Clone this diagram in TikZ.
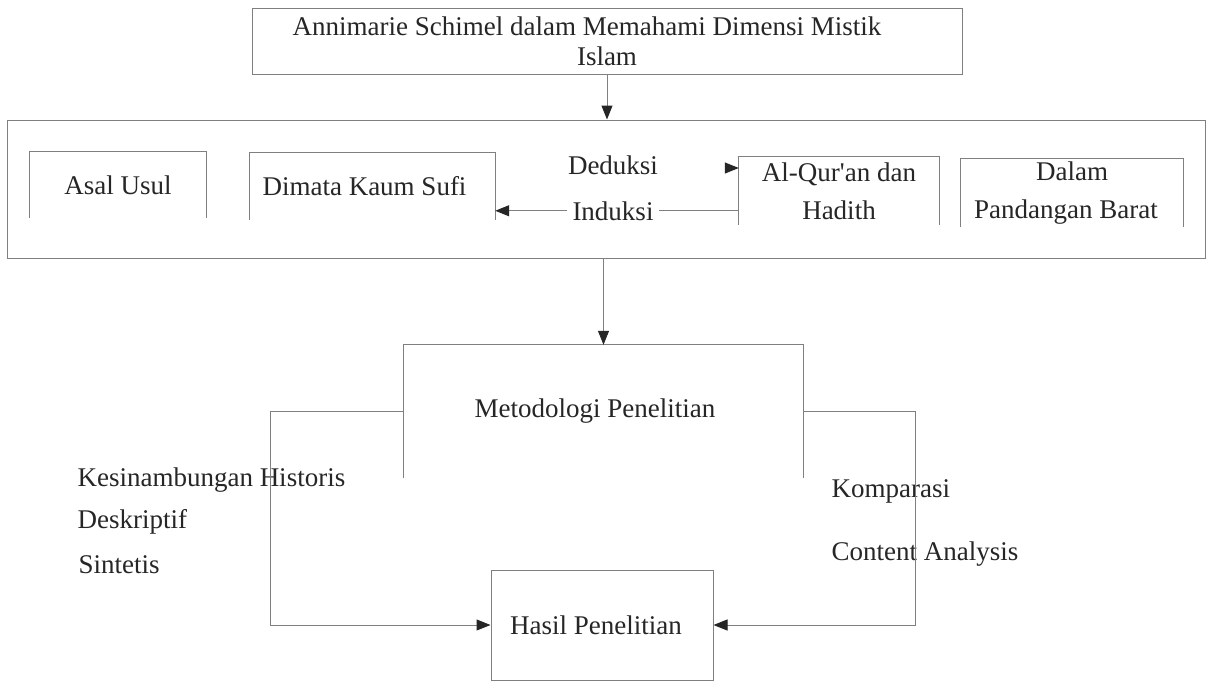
\documentclass[tikz,border=0pt]{standalone}
\usepackage{fontspec}
\setmainfont{Liberation Serif}
\usetikzlibrary{arrows.meta,calc}
\begin{document}
\begin{tikzpicture}[x=1pt,y=-1pt,
  lin/.style={draw=black!50, line width=1pt},
  arr/.style={lin, -{Triangle[length=14pt,width=11pt,color=black!85]}},
  txt/.style={font=\fontsize{27}{30}\selectfont, text=black!85},
  box/.style={txt, inner sep=0pt, align=center},
  closedbox/.style={box, lin},
  twoline/.style={font=\fontsize{27}{38}\selectfont}]
\useasboundingbox (0,0) rectangle (1208,683);
\fill[white] (0,0) rectangle (1208,683);

% boxes
\node[closedbox, minimum width=710, minimum height=66] (top) at (607,41)
  {Annimarie Schimel dalam Memahami Dimensi Mistik\hspace*{40pt}\\Islam};
\node[closedbox, minimum width=1198, minimum height=138] (big) at (606,189) {};

\node[box, minimum width=176, minimum height=66] (asal) at (118,185) {Asal Usul};
\node[box, minimum width=245, minimum height=67] (dim) at (372.5,186.5) {Dimata Kaum Sufi\hspace*{16pt}};
\node[box, twoline, minimum width=200, minimum height=68] (alq) at (839,191)
  {Al-Qur\textquotesingle an dan\\Hadith};
\node[box, twoline, minimum width=222, minimum height=68] (dal) at (1072,193)
  {Dalam\\Pandangan Barat\hspace*{12pt}};
\foreach \n in {asal,dim,alq,dal}
  \draw[lin] (\n.south west) -- (\n.north west) -- (\n.north east) -- (\n.south east);

\node[txt, anchor=base] (ded) at (613,174) {Deduksi};
\node[txt, anchor=base, inner xsep=5pt] (ind) at (613,220) {Induksi};

\node[box, minimum width=399, minimum height=133] (meto) at (603.5,411.5)
  {Metodologi Penelitian\hspace*{17pt}};
\draw[lin] (meto.south west) -- (meto.north west) -- (meto.north east) -- (meto.south east);

\node[closedbox, minimum width=222, minimum height=110] (hasil) at (602,625)
  {Hasil Penelitian\hspace*{12pt}};

% side labels
\node[txt, anchor=base west] (kh) at (74,486) {Kesinambungan Historis};
\node[txt, anchor=base west] (desk) at (74,528) {Deskriptif};
\node[txt, anchor=base west] (sint) at (75,573) {Sintetis};
\node[txt, anchor=base west] (komp) at (828,497) {Komparasi};
\node[txt, anchor=base west] (cont) at (828,560) {Content Analysis};

% connectors
\draw[arr] (top.south) -- (top.south |- big.north);
\draw[arr] (meto.north |- big.south) -- (meto.north);
\coordinate (dtail) at (725,168);
\draw[arr] (dtail) -- (alq.west |- dtail);
\draw[lin] (alq.west |- ind) -- (ind.east);
\draw[arr] (ind.west) -- (dim.east |- ind);
\draw[arr] (meto.west) -- ++(-133,0) |- (hasil.west);
\draw[arr] (meto.east) -- ++(112,0) |- (hasil.east);
\end{tikzpicture}
\end{document}
